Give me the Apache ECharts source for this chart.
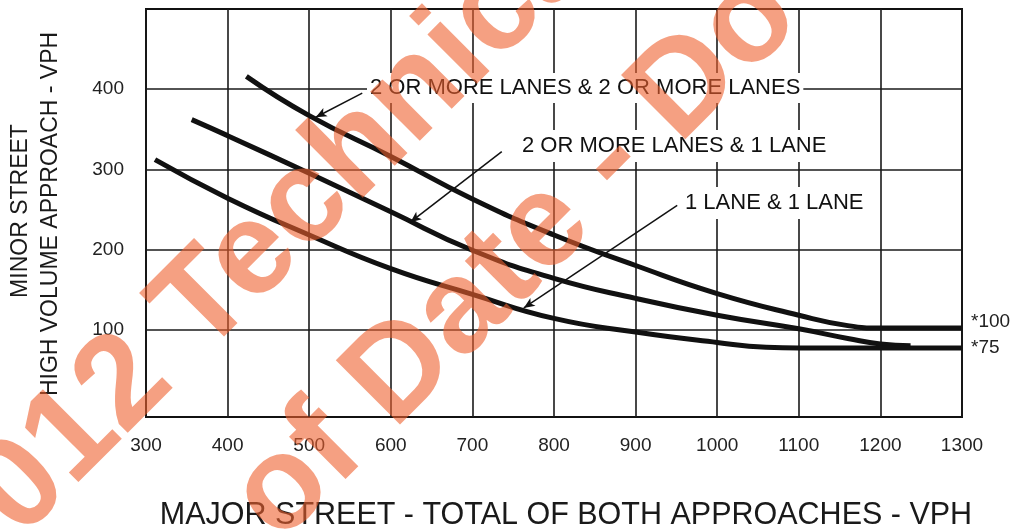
<!DOCTYPE html>
<html><head><meta charset="utf-8">
<script src="https://cdn.jsdelivr.net/npm/echarts@6/dist/echarts.min.js"></script>
<style>html,body{margin:0;padding:0;background:#fff}#c{width:1013px;height:531px}</style>
</head><body><div id="c"></div>
<script>
// ---- data ----
const curveNames = ['2 OR MORE LANES & 2 OR MORE LANES', '2 OR MORE LANES & 1 LANE', '1 LANE & 1 LANE'];
const majorTwoTwo = [423, 500, 600, 700, 800, 900, 1000, 1100, 1160, 1200, 1300];
const minorTwoTwo = [416, 367, 316, 263, 218, 180, 145, 118, 105, 102, 102];
const majorTwoOne = [356, 400, 500, 600, 700, 800, 900, 1000, 1100, 1160, 1200, 1237];
const minorTwoOne = [362, 342, 295, 247, 199, 164, 139, 118, 101, 89, 82, 80];
const majorOneOne = [311, 400, 500, 600, 700, 800, 900, 1000, 1060, 1100, 1200, 1300];
const minorOneOne = [312, 264, 218, 176, 144, 114, 97, 84, 78, 77, 77, 77];
const endNotes = ['*100', '', '*75'];
const yTickValues = [100, 200, 300, 400];
const xMin = 300, xMax = 1300, xStep = 100;
const yMin = -9, yMax = 500;
// leader lines: [curve point (arrow tip), point near label] in data units
const leaderFrom = [[508, 365], [624, 234], [763, 127]];
const leaderTo = [[565, 395], [736, 322], [951, 255]];
const xAxisTitle = 'MAJOR STREET - TOTAL OF BOTH APPROACHES - VPH';
const yAxisTitle = ['MINOR STREET', 'HIGH VOLUME APPROACH - VPH'];
const watermark = ['2012 Technical', 'of Date - Do'];

const FONT = '"Liberation Sans", Arial, sans-serif';
const INK = '#111';
const zip = (xs, ys) => xs.map((x, i) => [x, ys[i]]);
const curves = [zip(majorTwoTwo, minorTwoTwo), zip(majorTwoOne, minorTwoOne), zip(majorOneOne, minorOneOne)];

const chart = echarts.init(document.getElementById('c'), null, {renderer: 'canvas'});
const option = {
  animation: false,
  backgroundColor: '#fff',
  grid: {left: 146, right: 51, top: 9, bottom: 114, show: true, borderColor: INK, borderWidth: 2, backgroundColor: 'transparent'},
  xAxis: {
    type: 'value', min: xMin, max: xMax, interval: xStep,
    axisLine: {show: false}, axisTick: {show: false},
    splitLine: {show: true, lineStyle: {color: '#1a1a1a', width: 1.6}},
    axisLabel: {fontSize: 19, color: '#222', fontFamily: FONT, margin: 19, formatter: v => String(v)}
  },
  yAxis: {
    type: 'value', min: yMin, max: yMax,
    axisLine: {show: false},
    axisTick: {show: false, customValues: yTickValues},
    splitLine: {show: true, lineStyle: {color: '#1a1a1a', width: 1.6}},
    axisLabel: {customValues: yTickValues, fontSize: 19, color: '#222', fontFamily: FONT, margin: 22, formatter: v => String(v)}
  },
  series: curves.map((d, i) => ({
    type: 'line', name: curveNames[i], data: d, smooth: 0.5,
    showSymbol: false, symbol: 'none', silent: true,
    lineStyle: {color: INK, width: 5},
    endLabel: {show: !!endNotes[i], formatter: endNotes[i], distance: 9, fontSize: 19, color: '#222', fontFamily: FONT,
      offset: [0, i === 0 ? -6 : 0]},
    markLine: {
      silent: true, animation: false,
      symbol: ['arrow', 'none'], symbolSize: [7, 11],
      label: {show: false},
      lineStyle: {color: INK, width: 1.5, type: 'solid'},
      data: [[{coord: leaderFrom[i]}, {coord: leaderTo[i]}]]
    },
    z: 3
  })),
  graphic: [
    {type: 'text', x: 367, y: 88, z: 20, silent: true,
      style: {text: curveNames[0], font: '22px ' + FONT, fill: INK, align: 'left', verticalAlign: 'middle', backgroundColor: '#fff', padding: [4, 3]}},
    {type: 'text', x: 518, y: 146, z: 20, silent: true,
      style: {text: curveNames[1], font: '22px ' + FONT, fill: INK, align: 'left', verticalAlign: 'middle', backgroundColor: '#fff', padding: [5, 4]}},
    {type: 'text', x: 681, y: 203, z: 20, silent: true,
      style: {text: curveNames[2], font: '22px ' + FONT, fill: INK, align: 'left', verticalAlign: 'middle', backgroundColor: '#fff', padding: [5, 4]}},
    {type: 'text', x: 566, y: 516, z: 20, silent: true,
      style: {text: xAxisTitle, font: '30.5px ' + FONT, fill: '#1a1a1a', align: 'center', verticalAlign: 'middle'}},
    {type: 'text', x: 21, y: 211, rotation: Math.PI / 2, z: 20, silent: true,
      style: {text: yAxisTitle[0], font: '23px ' + FONT, fill: '#1a1a1a', align: 'center', verticalAlign: 'middle'}},
    {type: 'text', x: 51, y: 214, rotation: Math.PI / 2, z: 20, silent: true,
      style: {text: yAxisTitle[1], font: '23px ' + FONT, fill: '#1a1a1a', align: 'center', verticalAlign: 'middle'}},
    {type: 'text', x: -57, y: 566, rotation: Math.PI / 4, z: 100, silent: true,
      style: {text: watermark[0], font: 'bold 132px ' + FONT, fill: 'rgba(238,97,47,0.6)', align: 'left', verticalAlign: 'middle'}},
    {type: 'text', x: 254, y: 519, rotation: Math.PI / 4, z: 100, silent: true,
      style: {text: watermark[1], font: 'bold 132px ' + FONT, fill: 'rgba(238,97,47,0.6)', align: 'left', verticalAlign: 'middle'}}
  ]
};
chart.setOption(option);
</script>
</body></html>
